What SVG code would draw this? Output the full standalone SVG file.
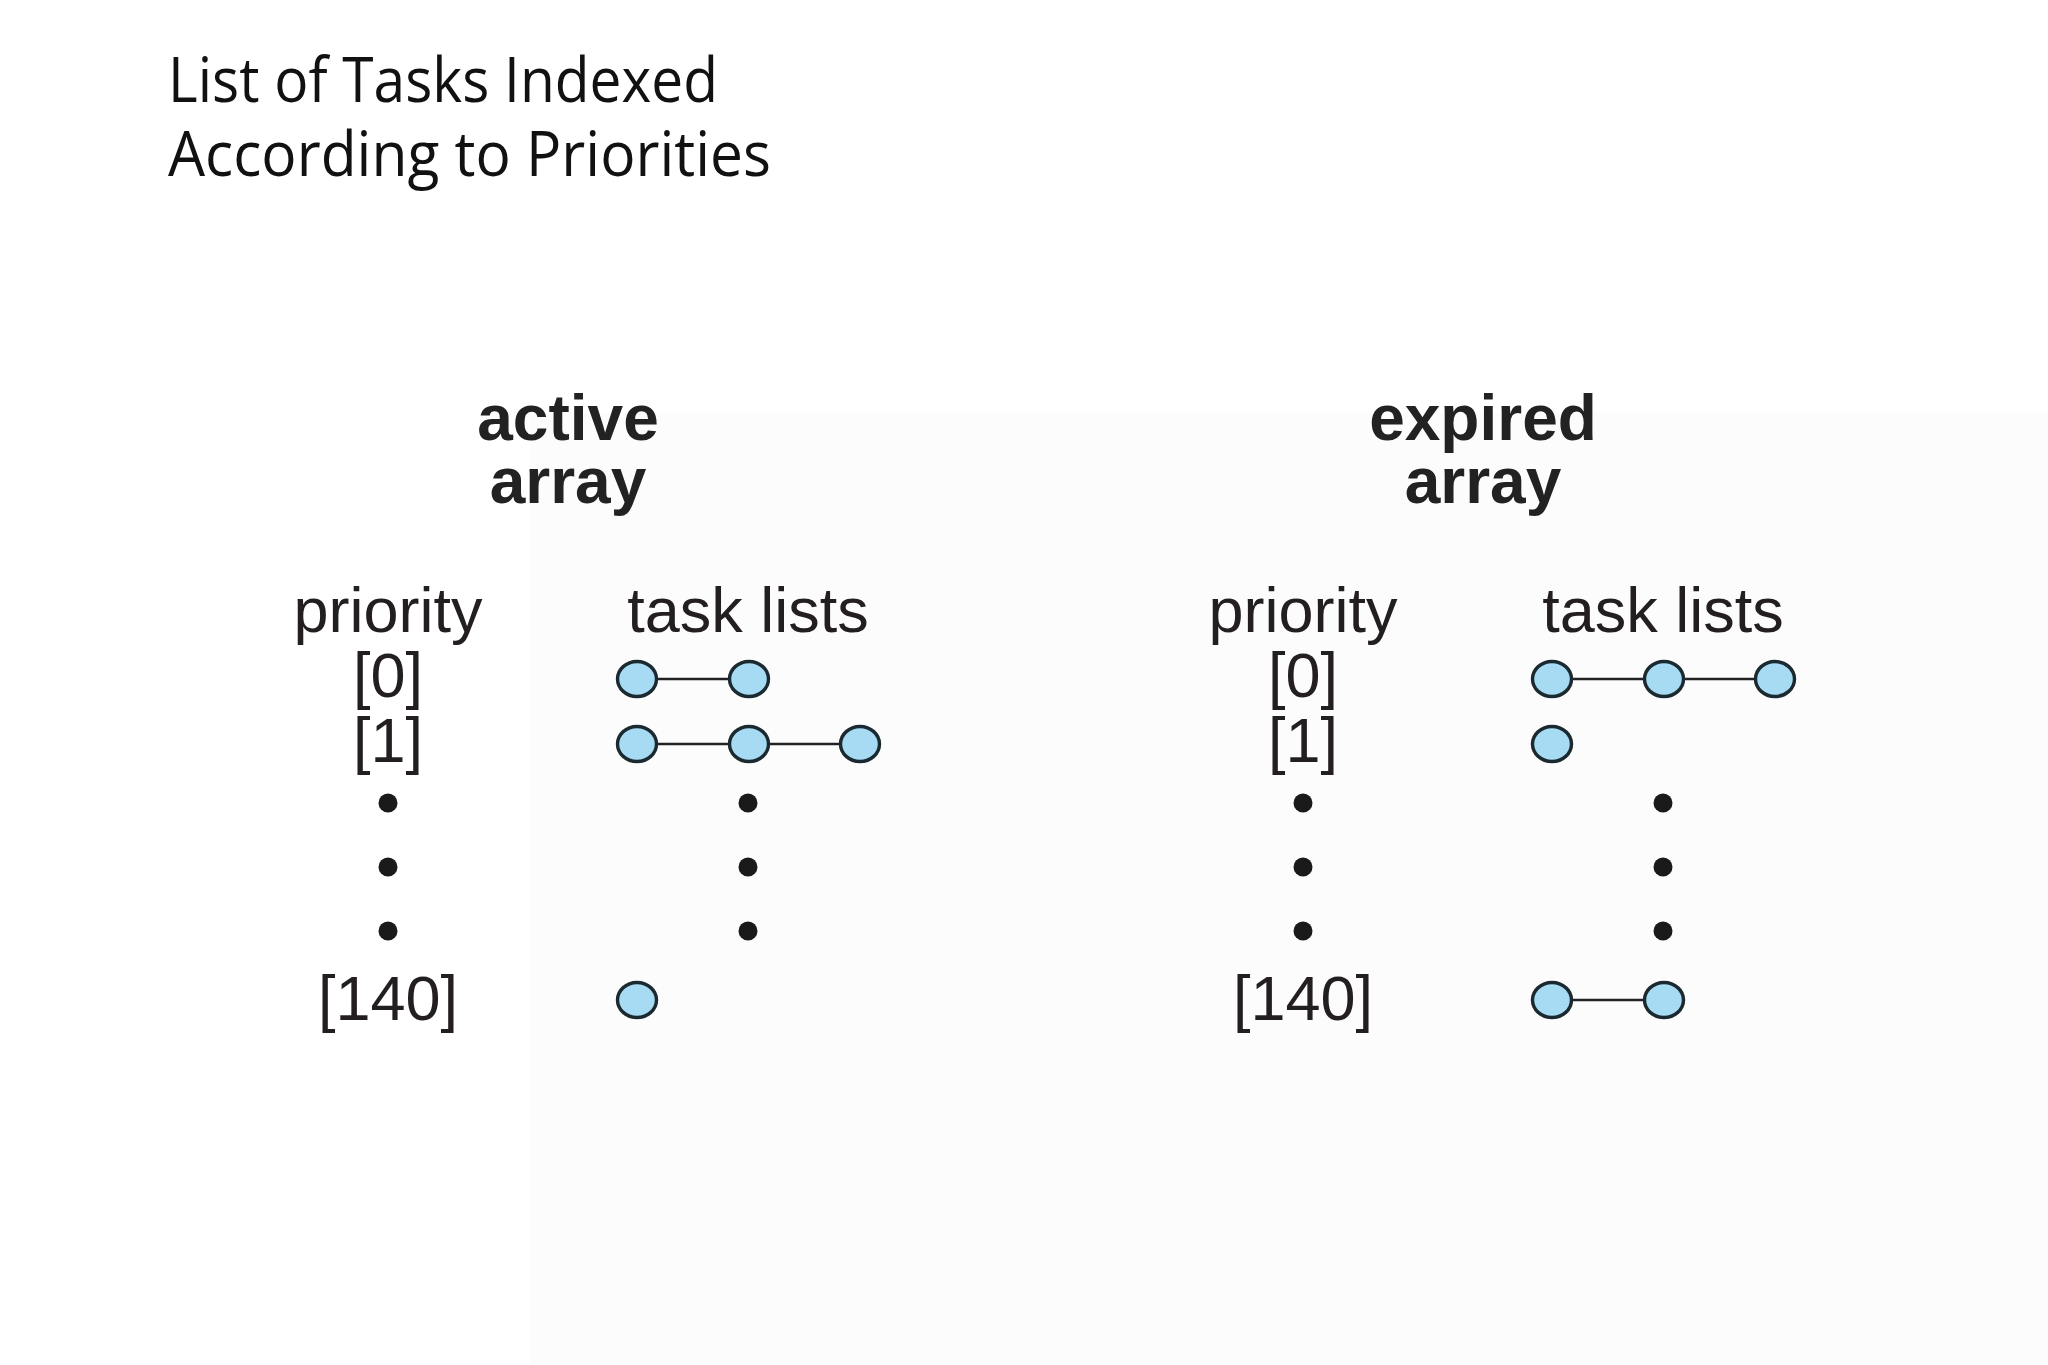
<svg xmlns="http://www.w3.org/2000/svg" width="2048" height="1365" viewBox="0 0 2048 1365">
<style>
.title{font-family:"Open Sans","Liberation Sans",sans-serif;font-weight:400;font-size:63px;fill:#111}
.head{font-family:"Liberation Sans",Arial,sans-serif;font-weight:bold;font-size:64px;fill:#222;text-anchor:middle}
.lbl{font-family:"Liberation Sans",Arial,sans-serif;font-size:63px;fill:#231f20;text-anchor:middle}
.task{fill:#a7dbf3;stroke:#1b2a30;stroke-width:3.4}
.dot{fill:#1a1a1a}
.link{stroke:#222;stroke-width:2.6;fill:none}
</style>
<rect x="0" y="0" width="2048" height="1365" fill="#ffffff"/>
<rect x="530" y="413" width="1518" height="952" fill="#fdfcfd"/>
<g id="title">
<text class="title" x="168" y="102" textLength="550" lengthAdjust="spacingAndGlyphs">List of Tasks Indexed</text>
<text class="title" x="168" y="176" textLength="603" lengthAdjust="spacingAndGlyphs">According to Priorities</text>
</g>
<g id="active-array">
<text class="head" x="568" y="440">active</text>
<text class="head" x="568" y="503">array</text>
<text class="lbl" x="388" y="632">priority</text>
<text class="lbl" x="748" y="632">task lists</text>
<text class="lbl" x="388" y="697">[0]</text>
<text class="lbl" x="388" y="762">[1]</text>
<text class="lbl" x="388" y="1020">[140]</text>
<circle class="dot" cx="388" cy="803" r="9.5"/>
<circle class="dot" cx="388" cy="867" r="9.5"/>
<circle class="dot" cx="388" cy="931" r="9.5"/>
<circle class="dot" cx="748" cy="803" r="9.5"/>
<circle class="dot" cx="748" cy="867" r="9.5"/>
<circle class="dot" cx="748" cy="931" r="9.5"/>
</g>
<g id="expired-array">
<text class="head" x="1483" y="440">expired</text>
<text class="head" x="1483" y="503">array</text>
<text class="lbl" x="1303" y="632">priority</text>
<text class="lbl" x="1663" y="632">task lists</text>
<text class="lbl" x="1303" y="697">[0]</text>
<text class="lbl" x="1303" y="762">[1]</text>
<text class="lbl" x="1303" y="1020">[140]</text>
<circle class="dot" cx="1303" cy="803" r="9.5"/>
<circle class="dot" cx="1303" cy="867" r="9.5"/>
<circle class="dot" cx="1303" cy="931" r="9.5"/>
<circle class="dot" cx="1663" cy="803" r="9.5"/>
<circle class="dot" cx="1663" cy="867" r="9.5"/>
<circle class="dot" cx="1663" cy="931" r="9.5"/>
</g>
<g id="connectors">
<line class="link" x1="657" y1="679" x2="729" y2="679"/>
<line class="link" x1="657" y1="744" x2="729" y2="744"/>
<line class="link" x1="769" y1="744" x2="840" y2="744"/>
<line class="link" x1="1572" y1="679" x2="1644" y2="679"/>
<line class="link" x1="1684" y1="679" x2="1755" y2="679"/>
<line class="link" x1="1572" y1="1000" x2="1644" y2="1000"/>
</g>
<g id="active-tasks">
<ellipse class="task" cx="637" cy="679" rx="19.5" ry="17.5"/>
<ellipse class="task" cx="749" cy="679" rx="19.5" ry="17.5"/>
<ellipse class="task" cx="637" cy="744" rx="19.5" ry="17.5"/>
<ellipse class="task" cx="749" cy="744" rx="19.5" ry="17.5"/>
<ellipse class="task" cx="860" cy="744" rx="19.5" ry="17.5"/>
<ellipse class="task" cx="637" cy="1000" rx="19.5" ry="17.5"/>
</g>
<g id="expired-tasks">
<ellipse class="task" cx="1552" cy="679" rx="19.5" ry="17.5"/>
<ellipse class="task" cx="1664" cy="679" rx="19.5" ry="17.5"/>
<ellipse class="task" cx="1775" cy="679" rx="19.5" ry="17.5"/>
<ellipse class="task" cx="1552" cy="744" rx="19.5" ry="17.5"/>
<ellipse class="task" cx="1552" cy="1000" rx="19.5" ry="17.5"/>
<ellipse class="task" cx="1664" cy="1000" rx="19.5" ry="17.5"/>
</g>
</svg>
